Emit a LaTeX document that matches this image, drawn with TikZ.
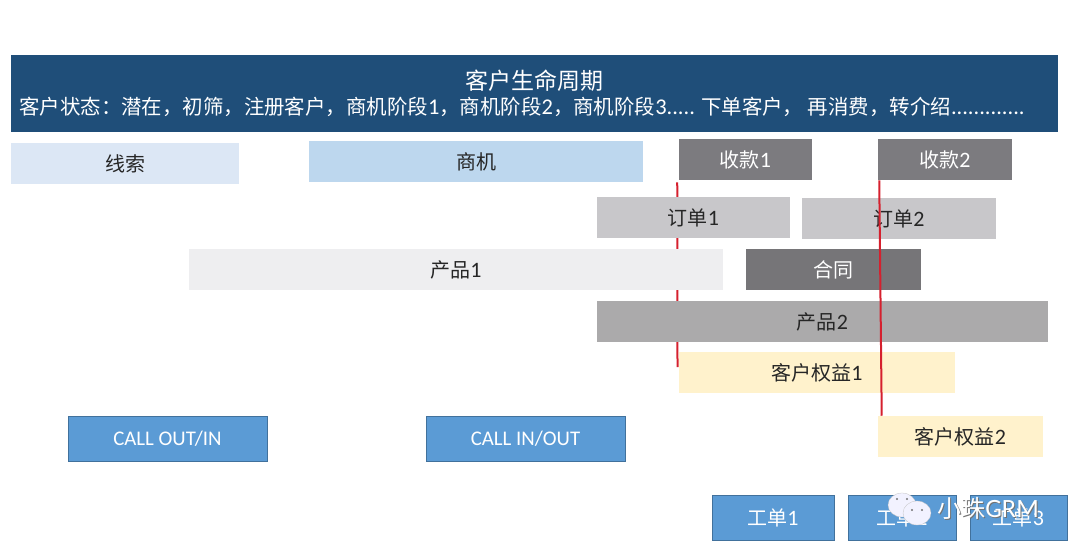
\documentclass[tikz,border=0pt]{standalone}
\usepackage{fontspec}
\setmainfont{Carlito}[Scale=1.1]
\newfontfamily\cjk{Noto Sans CJK SC}
\usepackage{tikz}
\usetikzlibrary{positioning,shapes.geometric,backgrounds}

\definecolor{headblue}{HTML}{1F4E79}
\definecolor{leadblue}{HTML}{DCE7F5}
\definecolor{dealblue}{HTML}{BDD7EE}
\definecolor{paygray}{HTML}{7C7B7F}
\definecolor{ordergray}{HTML}{C8C7CA}
\definecolor{prodlight}{HTML}{EEEEF0}
\definecolor{contractgray}{HTML}{767578}
\definecolor{prodgray}{HTML}{ABAAAB}
\definecolor{rightyellow}{HTML}{FFF2CC}
\definecolor{callblue}{HTML}{5B9BD5}
\definecolor{calledge}{HTML}{41719C}
\definecolor{cutred}{HTML}{D5202E}

\begin{document}
\begin{tikzpicture}[
  x=0.75pt, y=-0.75pt,
  % Flat bars on the timeline
  bar/.style={rectangle, minimum height=30.75pt, inner sep=0pt,
    text=black!85, font=\fontsize{15}{17}\selectfont},
  barw/.style={minimum width=#1*0.75pt},
  % Blue boxes with a thin edge
  callbox/.style={bar, draw=calledge, line width=0.5pt, fill=callblue,
    minimum height=33.75pt, text=white},
  % Red cut lines
  cutline/.style={draw=cutred, line width=1.5pt},
  % Watermark bubbles
  bubble/.style={ellipse, fill=#1, draw=black!25, line width=0.2pt,
    inner sep=0pt, minimum width=21pt, minimum height=18pt},
  eye/.style={circle, fill=black!55, inner sep=0pt, minimum size=1.8pt},
]
  \useasboundingbox (0,0) rectangle (1080,558);

  % === Header ===
  \node[rectangle, fill=headblue, minimum width=785.25pt, minimum height=57.75pt,
    inner sep=0pt] (header) at (534.5,93.5) {};
  \node[text=white, inner sep=0pt, font=\fontsize{17.25}{20}\selectfont] (title) at (534,81) {\cjk 客户生命周期};
  \node[text=white, inner sep=0pt, anchor=west, font=\fontsize{15.33}{18}\selectfont] (states) at (19,107)
    {\cjk 客户状态：潜在，初筛，注册客户，商机阶段{\rmfamily 1}，商机阶段{\rmfamily 2}，商机阶段{\rmfamily 3.....} 下单客户， 再消费，转介绍{\rmfamily .............}};

  % === Row 1: leads, deals, payments ===
  \node[bar, barw=228, fill=leadblue] (lead) at (125,163.5) {\cjk 线索};
  \node[bar, barw=334, fill=dealblue] (deal) at (476,161.5) {\cjk 商机};
  \node[bar, barw=133, fill=paygray, text=white] (payA) at (745.5,159.5) {\cjk 收款\rmfamily 1};
  \node[bar, barw=134, fill=paygray, text=white] (payB) at (945,159.5) {\cjk 收款\rmfamily 2};

  % === Row 2: orders ===
  \node[bar, barw=193, fill=ordergray] (orderA) at (693.5,217.5) {\cjk 订单\rmfamily 1};
  \node[bar, barw=194, fill=ordergray] (orderB) at (899,218.5) {\cjk 订单\rmfamily 2};

  % === Row 3: product 1, contract ===
  \node[bar, barw=534, fill=prodlight] (prodA) at (456,269.5) {\cjk 产品\rmfamily 1};
  \node[bar, barw=175, fill=contractgray, text=white] (contract) at (833.5,269.5) {\cjk 合同};

  % === Row 4: product 2 ===
  \node[bar, barw=451, fill=prodgray] (prodB) at (822.5,321.5) {\cjk 产品\rmfamily 2};

  % === Rows 5 and 6: customer rights ===
  \node[bar, barw=276, fill=rightyellow] (rightA) at (817,372.5) {\cjk 客户权益\rmfamily 1};
  \node[bar, barw=165, fill=rightyellow] (rightB) at (960.5,436.5) {\cjk 客户权益\rmfamily 2};

  % === Calls ===
  \node[callbox, barw=199, font=\fontsize{14.2}{17}\selectfont] (callA) at (167.5,438.5) {CALL OUT/IN};
  \node[callbox, barw=199, font=\fontsize{14.2}{17}\selectfont] (callB) at (525.5,438.5) {CALL IN/OUT};

  % === Tickets ===
  \node[callbox, barw=122] (ticketA) at (773,517.5) {\cjk 工单\rmfamily 1};
  \node[callbox, barw=108] (ticketB) at (902,517.5) {\cjk 工单\rmfamily 2};
  \node[callbox, barw=97] (ticketC) at (1018.5,517.5) {\cjk 工单\rmfamily 3};

  % === Red lines: first runs behind the bars, second over them ===
  \coordinate (cutAend) at (677.5,367);
  \begin{scope}[on background layer]
    \draw[cutline] (payA.south west) ++(-1.5,2) -- (cutAend);
  \end{scope}
  \draw[cutline] (payB.south west) ++(1.5,0) -- ([xshift=3pt]rightB.north west);

  % === Watermark ===
  \node[bubble=white!95!blue] (bubbleA) at (902,505) {};
  \node[bubble=white!95!blue] (bubbleB) at (917,513) {};
  \node[eye] at (897,499) {};
  \node[eye] at (907,499) {};
  \node[eye] at (912,510) {};
  \node[eye] at (922,510) {};
  \node[text=black!55, inner sep=0pt, anchor=west, font=\fontsize{18}{20}\selectfont] (markshadow) at (938,509.5) {\cjk 小珠\rmfamily GRM};
  \node[text=white, inner sep=0pt, anchor=west, font=\fontsize{18}{20}\selectfont] (mark) at (937,508.5) {\cjk 小珠\rmfamily GRM};
\end{tikzpicture}
\end{document}
